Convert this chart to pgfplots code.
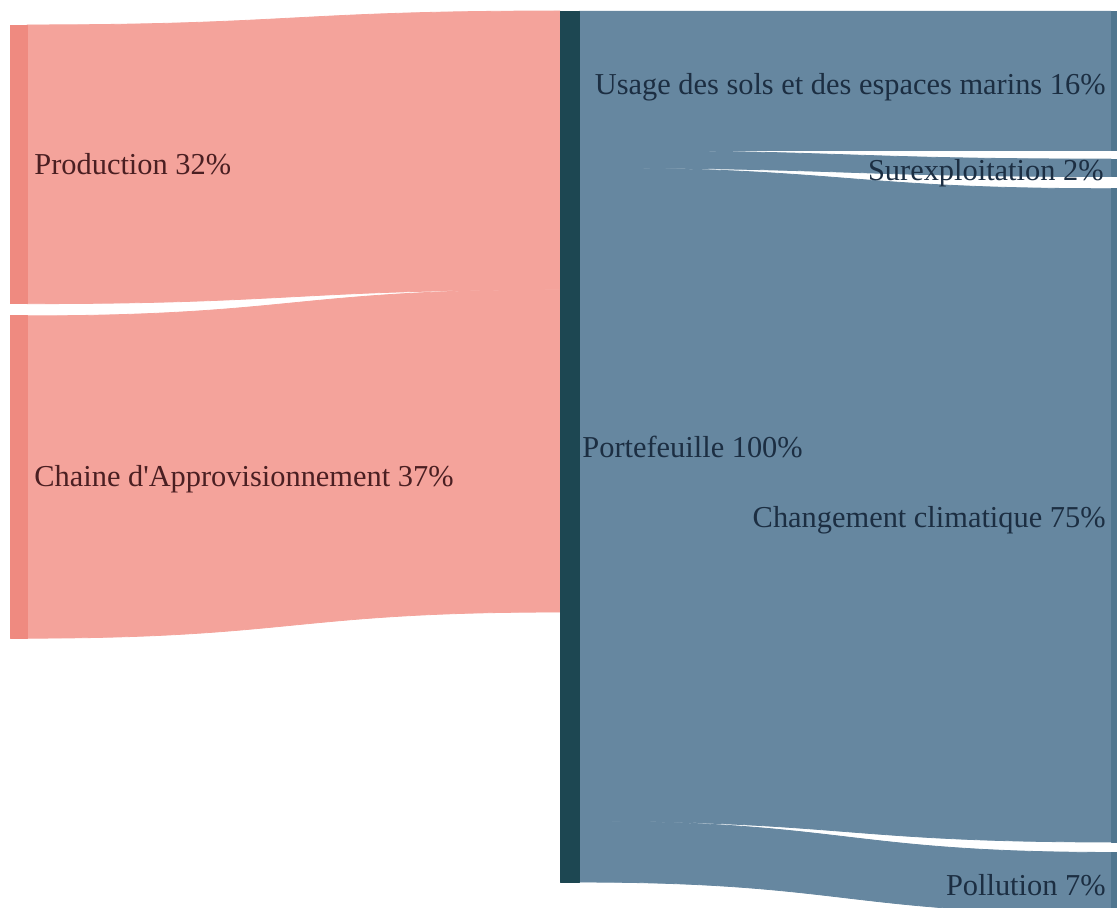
\documentclass[border=0pt]{standalone}
\usepackage{fontspec}
\setmainfont{Liberation Serif}[Ligatures=TeXOff]
\usepackage{pgfplots}
\usepackage{pgfplotstable}
\usepgfplotslibrary{patchplots}
\pgfplotsset{compat=1.18}

\definecolor{lblleft}{HTML}{4A1F22}
\definecolor{lblright}{HTML}{1C2E42}
\tikzset{lbl/.style={font=\fontsize{15.2}{18}\selectfont, inner sep=0pt}}

% Flow geometry: x in layout units (node columns at 10-27, 560-579, 1111-1128),
% y in percent of the portfolio (0 = top of "Portefeuille", 100 = bottom).
% Each flow is one Coons patch: corner, two controls, corner, ... (12 rows).
\pgfplotstableread{
x y c
27 1.6 rgb255=244,163,155
293.5 1.6 rgb255=244,163,155
293.5 0 rgb255=244,163,155
560 0 rgb255=244,163,155
560 0 rgb255=244,163,155
560 32 rgb255=244,163,155
560 32 rgb255=244,163,155
293.5 32 rgb255=244,163,155
293.5 33.6 rgb255=244,163,155
27 33.6 rgb255=244,163,155
27 33.6 rgb255=244,163,155
27 1.6 rgb255=244,163,155
27 35 rgb255=244,163,155
293.5 35 rgb255=244,163,155
293.5 32 rgb255=244,163,155
560 32 rgb255=244,163,155
560 32 rgb255=244,163,155
560 69 rgb255=244,163,155
560 69 rgb255=244,163,155
293.5 69 rgb255=244,163,155
293.5 72 rgb255=244,163,155
27 72 rgb255=244,163,155
27 72 rgb255=244,163,155
27 35 rgb255=244,163,155
}\inflows

\pgfplotstableread{
x y c
579 0 rgb255=102,135,160
845 0 rgb255=102,135,160
845 0 rgb255=102,135,160
1111 0 rgb255=102,135,160
1111 0 rgb255=102,135,160
1111 16 rgb255=102,135,160
1111 16 rgb255=102,135,160
845 16 rgb255=102,135,160
845 16 rgb255=102,135,160
579 16 rgb255=102,135,160
579 16 rgb255=102,135,160
579 0 rgb255=102,135,160
579 16 rgb255=102,135,160
845 16 rgb255=102,135,160
845 17 rgb255=102,135,160
1111 17 rgb255=102,135,160
1111 17 rgb255=102,135,160
1111 19 rgb255=102,135,160
1111 19 rgb255=102,135,160
845 19 rgb255=102,135,160
845 18 rgb255=102,135,160
579 18 rgb255=102,135,160
579 18 rgb255=102,135,160
579 16 rgb255=102,135,160
579 18 rgb255=102,135,160
845 18 rgb255=102,135,160
845 20.4 rgb255=102,135,160
1111 20.4 rgb255=102,135,160
1111 20.4 rgb255=102,135,160
1111 95.4 rgb255=102,135,160
1111 95.4 rgb255=102,135,160
845 95.4 rgb255=102,135,160
845 93 rgb255=102,135,160
579 93 rgb255=102,135,160
579 93 rgb255=102,135,160
579 18 rgb255=102,135,160
579 93 rgb255=102,135,160
845 93 rgb255=102,135,160
845 96.6 rgb255=102,135,160
1111 96.6 rgb255=102,135,160
1111 96.6 rgb255=102,135,160
1111 103.6 rgb255=102,135,160
1111 103.6 rgb255=102,135,160
845 103.6 rgb255=102,135,160
845 100 rgb255=102,135,160
579 100 rgb255=102,135,160
579 100 rgb255=102,135,160
579 93 rgb255=102,135,160
}\outflows

% Node bars (rectangles, 4 corners each)
\pgfplotstableread{
x y c
10 1.6 rgb255=239,138,128
27 1.6 rgb255=239,138,128
27 33.6 rgb255=239,138,128
10 33.6 rgb255=239,138,128
10 35 rgb255=239,138,128
27 35 rgb255=239,138,128
27 72 rgb255=239,138,128
10 72 rgb255=239,138,128
560 0 rgb255=29,71,82
579 0 rgb255=29,71,82
579 100 rgb255=29,71,82
560 100 rgb255=29,71,82
1111 0 rgb255=80,118,143
1128 0 rgb255=80,118,143
1128 16 rgb255=80,118,143
1111 16 rgb255=80,118,143
1111 17 rgb255=80,118,143
1128 17 rgb255=80,118,143
1128 19 rgb255=80,118,143
1111 19 rgb255=80,118,143
1111 20.4 rgb255=80,118,143
1128 20.4 rgb255=80,118,143
1128 95.4 rgb255=80,118,143
1111 95.4 rgb255=80,118,143
1111 96.6 rgb255=80,118,143
1128 96.6 rgb255=80,118,143
1128 103.6 rgb255=80,118,143
1111 103.6 rgb255=80,118,143
}\nodebars

\begin{document}
\begin{tikzpicture}
\path[use as bounding box] (0,0) rectangle (558.5pt,454pt);
\begin{axis}[
  at={(0,0)}, anchor=south west,
  scale only axis, width=558.5pt, height=454pt,
  xmin=0, xmax=1117, ymin=-1.263, ymax=102.98,
  y dir=reverse, hide axis, clip=true,
]
\addplot[patch, patch type=coons, shader=flat, mesh/color input=explicit,
  point meta=explicit symbolic] table[meta=c] {\inflows};
\addplot[patch, patch type=coons, shader=flat, mesh/color input=explicit,
  point meta=explicit symbolic] table[meta=c] {\outflows};
\addplot[patch, patch type=rectangle, shader=flat, mesh/color input=explicit,
  point meta=explicit symbolic] table[meta=c] {\nodebars};

\node[lbl, anchor=west, text=lblleft] at (axis cs:34,17.6) {Production 32\%};
\node[lbl, anchor=west, text=lblleft] at (axis cs:34,53.8) {Chaine d'Approvisionnement 37\%};
\node[lbl, anchor=west, text=lblright] at (axis cs:582,50) {Portefeuille 100\%};
\node[lbl, anchor=east, text=lblright] at (axis cs:1106,8.7) {Usage des sols et des espaces marins 16\%};
\node[lbl, anchor=east, text=lblright] at (axis cs:1104,18.6) {Surexploitation 2\%};
\node[lbl, anchor=east, text=lblright] at (axis cs:1106,58.5) {Changement climatique 75\%};
\node[lbl, anchor=east, text=lblright] at (axis cs:1106,100.3) {Pollution 7\%};
\end{axis}
\end{tikzpicture}
\end{document}
